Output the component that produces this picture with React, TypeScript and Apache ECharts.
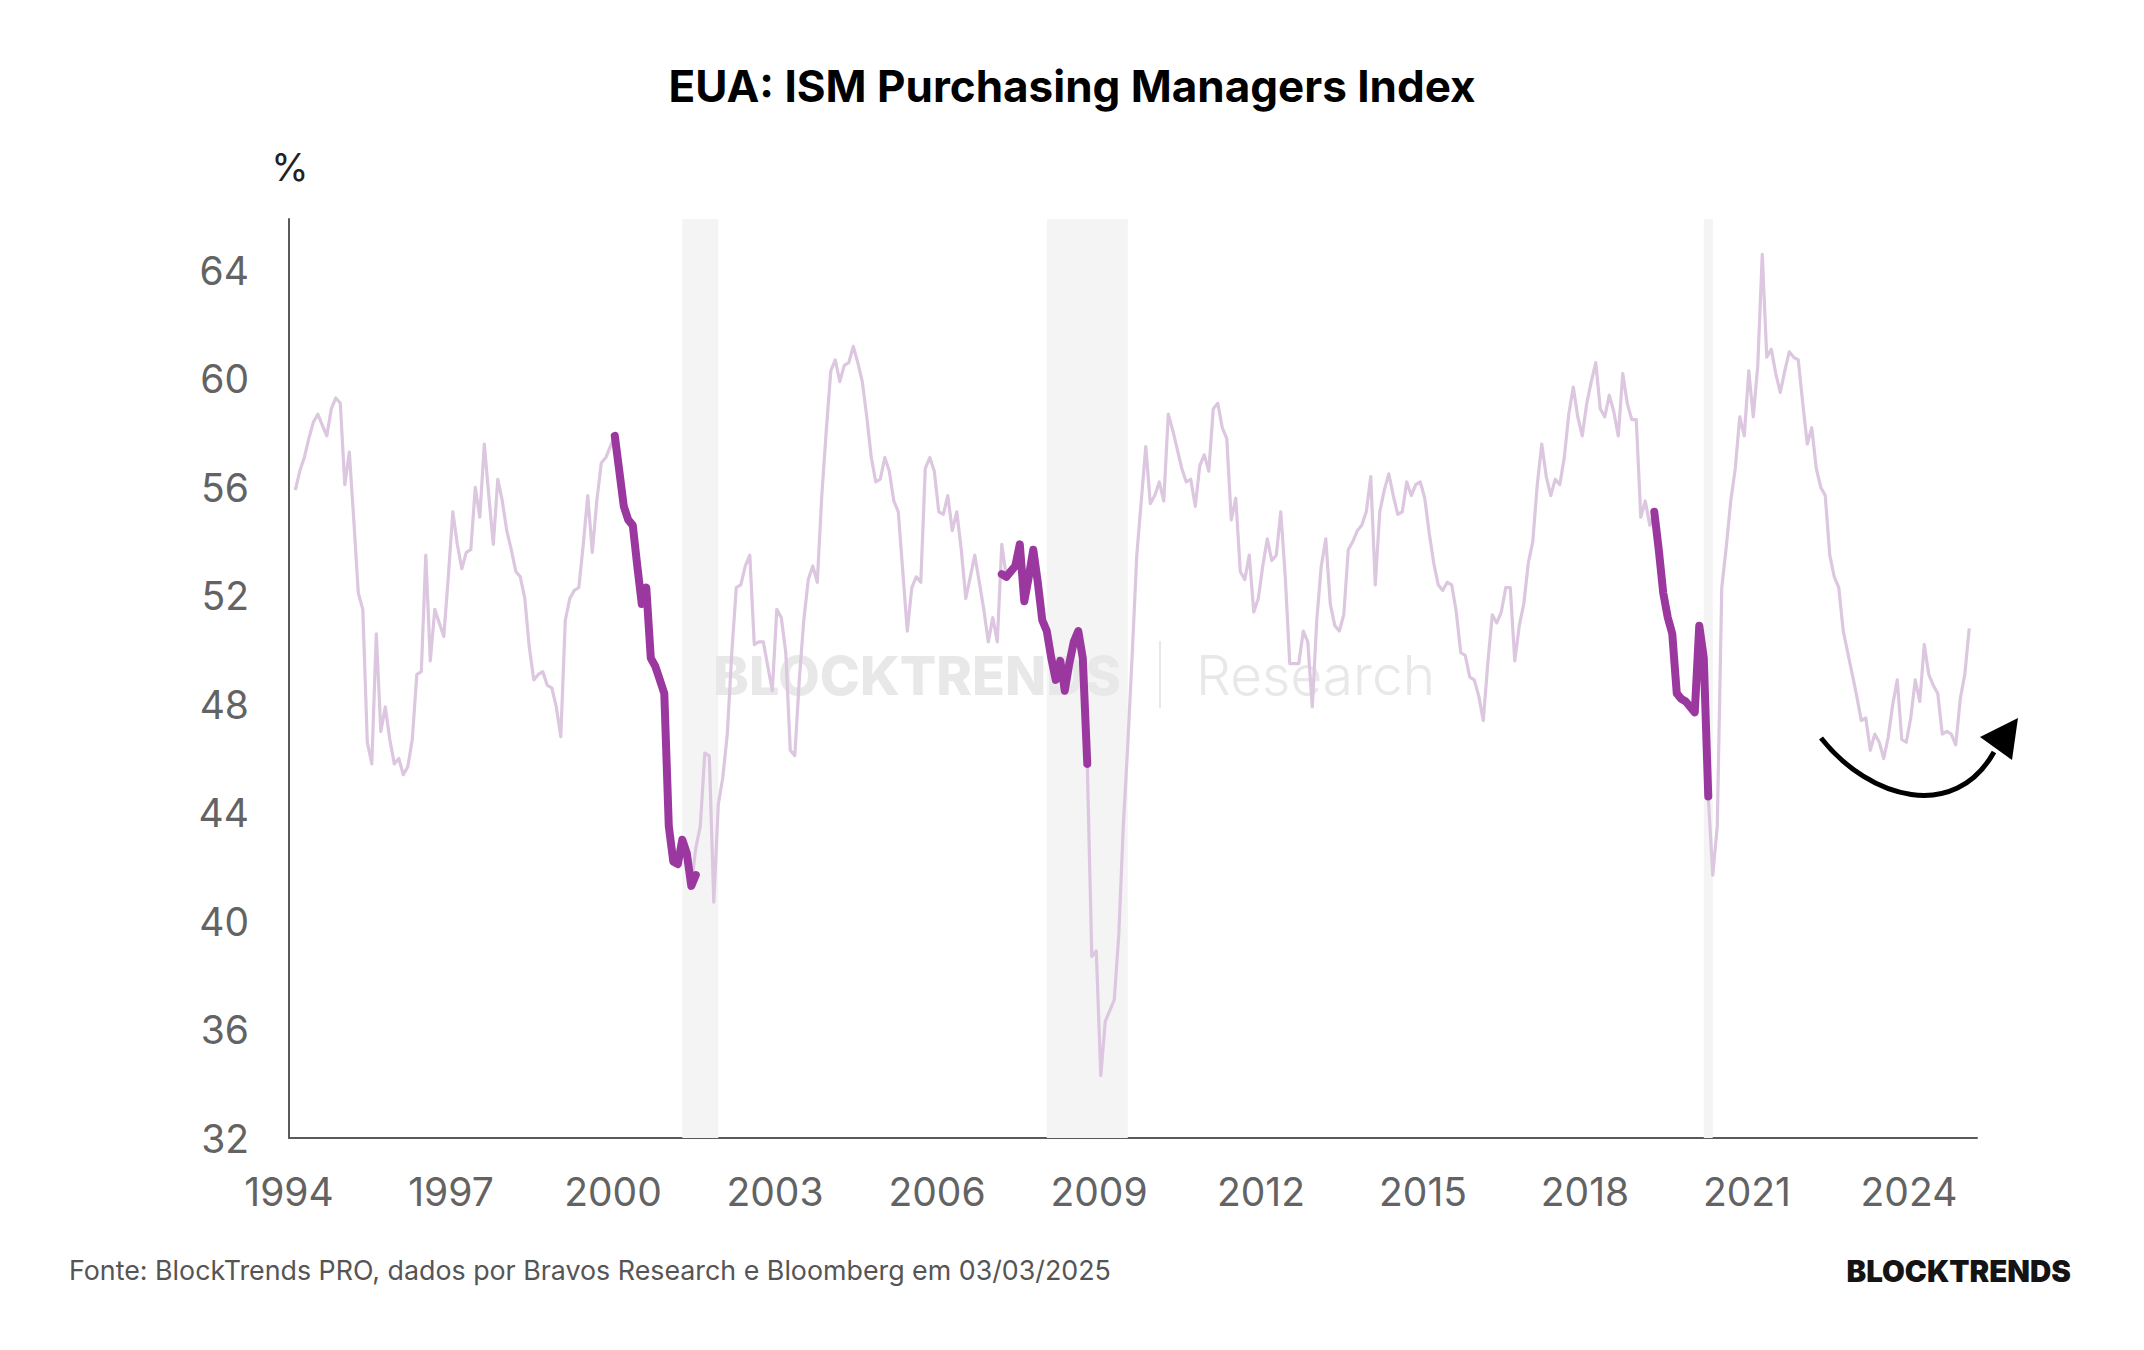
import React, { useEffect, useRef } from 'react';
import * as echarts from 'echarts';

// ---- Data (ISM Manufacturing PMI, monthly) ----
const START_YEAR = 1994;
// points are plotted at the publication date (about 1.4 months after the start of the reference month)
const RELEASE_LAG_MONTHS = 1.4;

const pmi1994 = [55.9, 56.6, 57.1, 57.8, 58.4, 58.7, 58.3, 57.9, 58.9, 59.3, 59.1, 56.1];
const pmi1995 = [57.3, 54.8, 52.1, 51.5, 46.6, 45.8, 50.6, 47.0, 47.9, 46.7, 45.8, 46.0];
const pmi1996 = [45.4, 45.7, 46.7, 49.1, 49.2, 53.5, 49.6, 51.5, 51.0, 50.5, 52.7, 55.1];
const pmi1997 = [53.9, 53.0, 53.6, 53.7, 56.0, 54.9, 57.6, 55.7, 53.9, 56.3, 55.5, 54.4];
const pmi1998 = [53.7, 52.9, 52.7, 51.9, 50.1, 48.9, 49.1, 49.2, 48.7, 48.6, 47.9, 46.8];
const pmi1999 = [51.1, 51.9, 52.2, 52.3, 53.9, 55.7, 53.6, 55.5, 56.9, 57.1, 57.5, 57.9];
const pmi2000 = [56.6, 55.3, 54.8, 54.6, 53.1, 51.7, 52.3, 49.7, 49.4, 48.9, 48.4, 43.5];
const pmi2001 = [42.2, 42.1, 43.0, 42.5, 41.3, 42.7, 43.5, 46.2, 46.1, 40.7, 44.3, 45.3];
const pmi2002 = [46.9, 49.9, 52.3, 52.4, 53.1, 53.5, 50.2, 50.3, 50.3, 49.4, 48.5, 51.5];
const pmi2003 = [51.2, 49.9, 46.3, 46.1, 48.9, 51.1, 52.6, 53.1, 52.5, 55.7, 58.1, 60.3];
const pmi2004 = [60.7, 59.9, 60.5, 60.6, 61.2, 60.6, 59.9, 58.6, 57.1, 56.2, 56.3, 57.1];
const pmi2005 = [56.6, 55.5, 55.1, 52.9, 50.7, 52.3, 52.7, 52.5, 56.7, 57.1, 56.6, 55.1];
const pmi2006 = [55.0, 55.7, 54.4, 55.1, 53.7, 51.9, 52.7, 53.5, 52.5, 51.5, 50.3, 51.2];
const pmi2007 = [50.3, 53.9, 52.7, 52.9, 53.1, 53.9, 51.8, 52.7, 53.7, 52.5, 51.1, 50.7];
const pmi2008 = [49.7, 48.9, 49.6, 48.5, 49.5, 50.3, 50.7, 49.7, 45.8, 38.7, 38.9, 34.3];
const pmi2009 = [36.3, 36.7, 37.1, 39.5, 43.5, 46.5, 49.9, 53.5, 55.5, 57.5, 55.4, 55.7];
const pmi2010 = [56.2, 55.5, 58.7, 58.1, 57.4, 56.7, 56.2, 56.3, 55.3, 56.8, 57.2, 56.6];
const pmi2011 = [58.9, 59.1, 58.2, 57.8, 54.8, 55.6, 52.9, 52.6, 53.5, 51.4, 51.9, 53.1];
const pmi2012 = [54.1, 53.3, 53.5, 55.1, 52.7, 49.5, 49.5, 49.5, 50.7, 50.3, 47.9, 51.1];
const pmi2013 = [53.1, 54.1, 51.7, 50.9, 50.7, 51.3, 53.7, 54.0, 54.4, 54.6, 55.1, 56.4];
const pmi2014 = [52.4, 55.1, 55.9, 56.5, 55.7, 55.0, 55.1, 56.2, 55.7, 56.1, 56.2, 55.6];
const pmi2015 = [54.3, 53.2, 52.4, 52.2, 52.5, 52.4, 51.4, 49.9, 49.8, 49.0, 48.9, 48.3];
const pmi2016 = [47.4, 49.5, 51.3, 51.0, 51.4, 52.3, 52.3, 49.6, 50.9, 51.7, 53.2, 54.0];
const pmi2017 = [56.1, 57.6, 56.4, 55.7, 56.3, 56.1, 57.1, 58.7, 59.7, 58.6, 57.9, 59.1];
const pmi2018 = [59.9, 60.6, 58.9, 58.6, 59.4, 58.8, 57.9, 60.2, 59.1, 58.5, 58.5, 54.9];
const pmi2019 = [55.5, 54.6, 55.1, 53.7, 52.1, 51.2, 50.6, 48.4, 48.2, 48.1, 47.9, 47.7];
const pmi2020 = [50.9, 49.7, 44.6, 41.7, 43.5, 52.3, 53.8, 55.5, 56.7, 58.6, 57.9, 60.3];
const pmi2021 = [58.6, 60.5, 64.6, 60.8, 61.1, 60.2, 59.5, 60.3, 61.0, 60.8, 60.7, 59.1];
const pmi2022 = [57.6, 58.2, 56.7, 56.0, 55.7, 53.5, 52.7, 52.3, 50.7, 49.9, 49.1, 48.3];
const pmi2023 = [47.4, 47.5, 46.3, 46.9, 46.6, 46.0, 46.8, 48.0, 48.9, 46.7, 46.6, 47.5];
const pmi2024 = [48.9, 48.1, 50.2, 49.1, 48.7, 48.4, 46.9, 47.0, 46.9, 46.5, 48.2, 49.1];
const pmi2025 = [50.8];

const pmiByYear = [
  pmi1994, pmi1995, pmi1996, pmi1997, pmi1998, pmi1999, pmi2000, pmi2001,
  pmi2002, pmi2003, pmi2004, pmi2005, pmi2006, pmi2007, pmi2008, pmi2009,
  pmi2010, pmi2011, pmi2012, pmi2013, pmi2014, pmi2015, pmi2016, pmi2017,
  pmi2018, pmi2019, pmi2020, pmi2021, pmi2022, pmi2023, pmi2024, pmi2025,
];

// highlighted (dark) stretches before recessions: start [year, monthIndex]
const highlightStart2000 = [1999, 11];
const highlightValues2000 = [57.9, 56.6, 55.3, 54.8, 54.6, 53.1, 51.7, 52.3, 49.7, 49.4, 48.9, 48.4, 43.5, 42.2, 42.1, 43.0, 42.5, 41.3, 41.7];
const highlightStart2007 = [2007, 1];
const highlightValues2007 = [52.8, 52.7, 52.9, 53.1, 53.9, 51.8, 52.7, 53.7, 52.5, 51.1, 50.7, 49.7, 48.9, 49.6, 48.5, 49.5, 50.3, 50.7, 49.7, 45.8];
const highlightStart2019 = [2019, 2];
const highlightValues2019 = [55.1, 53.7, 52.1, 51.2, 50.6, 48.4, 48.2, 48.1, 47.9, 47.7, 50.9, 49.7, 44.6];

// US recessions (NBER), [start, end] as [year, monthIndex]
const recessions = [
  [[2001, 2], [2001, 10]],
  [[2007, 11], [2009, 5]],
  [[2020, 1], [2020, 3]],
];

const yTicksMin = 32;
const yTicksMax = 65.9;
const yTickStep = 4;
const xMin = 1994;
const xMax = 2025.26;
const xTickStep = 3;

const TITLE = 'EUA: ISM Purchasing Managers Index';
const SOURCE = 'Fonte: BlockTrends PRO, dados por Bravos Research e Bloomberg em 03/03/2025';

function monthX(year: number, monthIndex: number) {
  return year + (monthIndex + RELEASE_LAG_MONTHS) / 12;
}

function buildMain() {
  const out: number[][] = [];
  pmiByYear.forEach((vals, k) => {
    vals.forEach((v, m) => out.push([monthX(START_YEAR + k, m), v]));
  });
  return out;
}

function buildHighlight(start: number[], values: number[]) {
  return values.map((v, j) => {
    const total = start[1] + j;
    return [monthX(start[0] + Math.floor(total / 12), total % 12), v];
  });
}

const FONT = 'Inter, "Noto Sans", "DejaVu Sans", sans-serif';

export default function App() {
  const ref = useRef<HTMLDivElement>(null);

  useEffect(() => {
    if (!ref.current) return;
    const chart = echarts.init(ref.current, null, { renderer: 'svg' });

    const darkStyle = { color: '#9b389f', width: 8, cap: 'round', join: 'round' };
    const darkSeries = (name: string, start: number[], values: number[]) => ({
      name,
      type: 'line',
      data: buildHighlight(start, values),
      showSymbol: false,
      symbol: 'none',
      silent: true,
      z: 4,
      lineStyle: darkStyle,
    });

    const option: any = {
      animation: false,
      backgroundColor: '#ffffff',
      grid: { left: 289, top: 219, width: 1688, height: 919, containLabel: false },
      xAxis: {
        type: 'value',
        min: xMin,
        max: xMax,
        interval: xTickStep,
        axisLine: { show: true, lineStyle: { color: '#5a5a5a', width: 2 } },
        axisTick: { show: false },
        splitLine: { show: false },
        axisLabel: {
          show: true,
          margin: 34,
          fontSize: 39,
          fontFamily: FONT,
          color: '#636363',
          showMaxLabel: false,
          formatter: (v: number) => (Math.abs(v - Math.round(v)) < 1e-6 ? String(Math.round(v)) : ''),
        },
      },
      yAxis: {
        type: 'value',
        min: yTicksMin,
        max: yTicksMax,
        interval: yTickStep,
        axisLine: { show: true, lineStyle: { color: '#5a5a5a', width: 2 } },
        axisTick: { show: false },
        splitLine: { show: false },
        axisLabel: {
          show: true,
          margin: 40,
          fontSize: 39,
          fontFamily: FONT,
          color: '#636363',
          showMaxLabel: false,
          formatter: (v: number) => (Math.abs(v % yTickStep) < 1e-6 ? String(v) : ''),
        },
      },
      graphic: [
        {
          type: 'text', x: 1072, y: 86, z: 10,
          style: { text: TITLE, fill: '#000', fontSize: 44, fontWeight: 700, fontFamily: FONT, align: 'center', verticalAlign: 'middle', textAlign: 'center', textVerticalAlign: 'middle' },
        },
        {
          type: 'text', x: 290, y: 167, z: 10,
          style: { text: '%', fill: '#222', fontSize: 38, fontWeight: 400, fontFamily: FONT, align: 'center', verticalAlign: 'middle', textAlign: 'center', textVerticalAlign: 'middle' },
        },
        // watermark
        {
          type: 'text', x: 1121, y: 675, z: 2, silent: true,
          style: { text: 'BLOCKTRENDS', fill: '#e8e8e8', fontSize: 54, fontWeight: 800, fontFamily: FONT, align: 'right', verticalAlign: 'middle', textAlign: 'right', textVerticalAlign: 'middle' },
        },
        {
          type: 'line', z: 2, silent: true,
          shape: { x1: 1160, y1: 641, x2: 1160, y2: 708 },
          style: { stroke: '#e8e8e8', lineWidth: 2 },
        },
        {
          type: 'text', x: 1196, y: 675, z: 2, silent: true,
          style: { text: 'Research', fill: '#e8e8e8', fontSize: 55, fontWeight: 300, fontFamily: FONT, align: 'left', verticalAlign: 'middle', textAlign: 'left', textVerticalAlign: 'middle' },
        },
        // curved arrow annotation
        {
          type: 'bezierCurve', z: 10, silent: true,
          shape: { x1: 1821, y1: 738, cpx1: 1870, cpy1: 800, cpx2: 1955, cpy2: 822, x2: 1994, y2: 752 },
          style: { stroke: '#000', lineWidth: 5, fill: null },
        },
        {
          type: 'polygon', z: 10, silent: true,
          shape: { points: [[2018, 718], [1980, 737], [2012, 760]] },
          style: { fill: '#000' },
        },
        // footer
        {
          type: 'text', x: 69, y: 1270, z: 10,
          style: { text: SOURCE, fill: '#555', fontSize: 26.8, fontWeight: 400, fontFamily: FONT, align: 'left', verticalAlign: 'middle', textAlign: 'left', textVerticalAlign: 'middle' },
        },
        {
          type: 'text', x: 2071, y: 1271, z: 10,
          style: { text: 'BLOCKTRENDS', fill: '#141414', fontSize: 29.5, fontWeight: 900, fontFamily: FONT, align: 'right', verticalAlign: 'middle', textAlign: 'right', textVerticalAlign: 'middle' },
        },
      ],
      series: [
        {
          name: 'ISM PMI',
          type: 'line',
          data: buildMain(),
          showSymbol: false,
          symbol: 'none',
          silent: true,
          z: 3,
          lineStyle: { color: '#dcc6e0', width: 3.2, join: 'round' },
          markArea: {
            silent: true,
            z: 1,
            itemStyle: { color: '#f4f4f4' },
            data: recessions.map(([a, b]) => [
              { xAxis: monthX(a[0], a[1]) },
              { xAxis: monthX(b[0], b[1]) },
            ]),
          },
        },
        darkSeries('Pré-recessão 2000', highlightStart2000, highlightValues2000),
        darkSeries('Pré-recessão 2008', highlightStart2007, highlightValues2007),
        darkSeries('Pré-recessão 2020', highlightStart2019, highlightValues2019),
      ],
    };

    chart.setOption(option);
    return () => chart.dispose();
  }, []);

  return (
    <div
      ref={ref}
      style={{ position: 'fixed', left: 0, top: 0, width: 2144, height: 1350, background: '#fff' }}
    />
  );
}
